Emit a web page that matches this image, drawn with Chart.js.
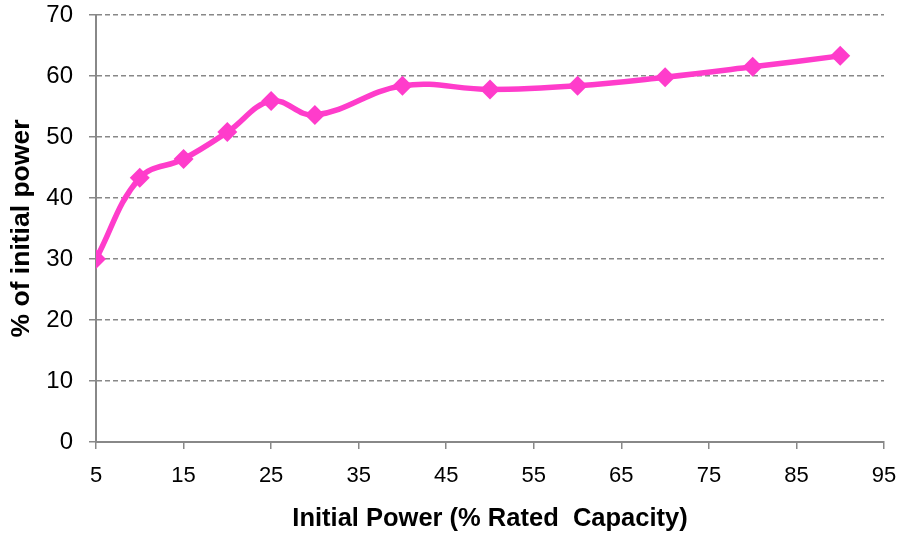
<!DOCTYPE html>
<html>
<head>
<meta charset="utf-8">
<script src="https://cdn.jsdelivr.net/npm/chart.js@4.4.1/dist/chart.umd.min.js"></script>
<style>
html,body{margin:0;padding:0;background:#fff;}
#wrap{width:904px;height:534px;position:relative;}
</style>
</head>
<body>
<div id="wrap"><canvas id="c" width="904" height="534"></canvas></div>
<script>
const xValues = [5, 10, 15, 20, 25, 30, 40, 50, 60, 70, 80, 90];
const yValues = [30.0, 43.3, 46.4, 50.8, 55.9, 53.6, 58.4, 57.8, 58.4, 59.8, 61.5, 63.3];
const xTicks = [5, 15, 25, 35, 45, 55, 65, 75, 85, 95];
const yTicks = [0, 10, 20, 30, 40, 50, 60, 70];
const xTitle = 'Initial Power (% Rated  Capacity)';
const yTitle = '% of initial power';

const points = xValues.map((x, i) => ({x: x, y: yValues[i]}));
const pink = '#FF3CCB';
const gridGray = '#888888';

new Chart(document.getElementById('c'), {
  type: 'line',
  data: {
    datasets: [{
      data: points,
      borderColor: pink,
      backgroundColor: pink,
      borderWidth: 5.5,
      tension: 0.4,
      pointStyle: 'rectRot',
      pointRadius: 10,
      pointHoverRadius: 10,
      pointBorderWidth: 0,
      fill: false
    }]
  },
  options: {
    responsive: false,
    animation: false,
    devicePixelRatio: 1,
    layout: {padding: {top: 15, right: 20, left: 0, bottom: 0}},
    plugins: {legend: {display: false}, tooltip: {enabled: false}},
    scales: {
      x: {
        type: 'linear',
        min: 5, max: 95,
        afterFit: s => { s.height = 92; s.paddingLeft = 0; s.paddingRight = 0; },
        afterBuildTicks: s => { s.ticks = xTicks.map(v => ({value: v})); },
        grid: {drawOnChartArea: false, drawTicks: true, tickLength: 7, color: gridGray, lineWidth: 1.5},
        border: {display: true, color: gridGray, width: 2},
        ticks: {color: '#000', padding: 14, maxRotation: 0, autoSkip: false,
                font: {family: 'Liberation Sans, Arial, sans-serif', size: 22}},
        title: {display: true, text: xTitle, color: '#000', padding: {top: 4, bottom: 0},
                font: {family: 'Liberation Sans, Arial, sans-serif', size: 25.5, weight: 'bold'}}
      },
      y: {
        min: 0, max: 70,
        afterFit: s => { s.width = 96; s.paddingTop = 0; s.paddingBottom = 0; },
        afterBuildTicks: s => { s.ticks = yTicks.map(v => ({value: v})); },
        grid: {drawTicks: true, tickLength: 7, color: gridGray, lineWidth: 1.5,
               tickBorderDash: []},
        border: {display: true, color: gridGray, width: 2, dash: [5, 3]},
        ticks: {color: '#000', padding: 16, autoSkip: false,
                font: {family: 'Liberation Sans, Arial, sans-serif', size: 24}},
        title: {display: true, text: yTitle, color: '#000', padding: {top: 6, bottom: 0},
                font: {family: 'Liberation Sans, Arial, sans-serif', size: 26.5, weight: 'bold'}}
      }
    }
  }
});
</script>
</body>
</html>
